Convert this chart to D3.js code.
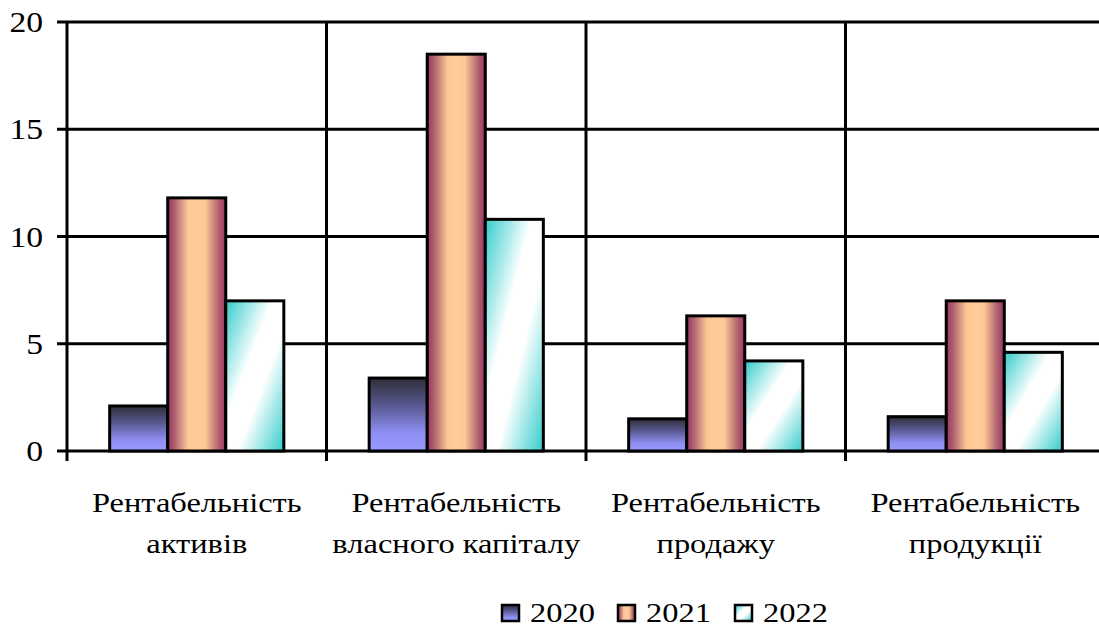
<!DOCTYPE html>
<html>
<head>
<meta charset="utf-8">
<script src="https://cdn.jsdelivr.net/npm/d3@7"></script>
<style>
  html, body { margin: 0; padding: 0; background: #fff; }
  svg { display: block; }
  svg text { font-family: "Liberation Serif", "Times New Roman", serif; fill: #000; }
</style>
</head>
<body>
<svg id="chart" width="1099" height="631"></svg>
<script>
// Profitability indicators, %
const categories = [
  ["Рентабельність", "активів"],
  ["Рентабельність", "власного капіталу"],
  ["Рентабельність", "продажу"],
  ["Рентабельність", "продукції"]
];
const years = ["2020", "2021", "2022"];
const values2020 = [2.1, 3.4, 1.5, 1.6];
const values2021 = [11.8, 18.5, 6.3, 7.0];
const values2022 = [7.0, 10.8, 4.2, 4.6];
const yTicks = [0, 5, 10, 15, 20];

const series = [values2020, values2021, values2022];
const textStretch = 1.16;

const svg = d3.select("#chart");
const margin = { left: 67, top: 22, bottom: 451 };
const plotRight = 1105;

const x = d3.scaleBand()
  .domain(d3.range(categories.length))
  .range([margin.left, plotRight]);
const xInner = d3.scaleBand()
  .domain(years)
  .range([0, x.bandwidth()])
  .paddingOuter(0.75 * 0.98)
  .paddingInner(0);
const y = d3.scaleLinear().domain([0, 20]).range([margin.bottom, margin.top]);

// gradient fills
const defs = svg.append("defs");
const g2020 = defs.append("linearGradient").attr("id", "grad2020")
  .attr("x1", 0).attr("y1", 0).attr("x2", 0).attr("y2", 1);
[[0, "#2f2f3a"], [0.35, "#55558a"], [0.75, "#8e8ef2"], [1, "#9999ff"]]
  .forEach(([o, c]) => g2020.append("stop").attr("offset", o).attr("stop-color", c));

const g2021 = defs.append("linearGradient").attr("id", "grad2021")
  .attr("x1", 0).attr("y1", 0).attr("x2", 1).attr("y2", 0);
[[0, "#993366"], [0.12, "#b0616f"], [0.35, "#fcc896"], [0.5, "#ffcc99"], [0.65, "#fcc896"], [0.88, "#b0616f"], [1, "#993366"]]
  .forEach(([o, c]) => g2021.append("stop").attr("offset", o).attr("stop-color", c));

const g2022 = defs.append("linearGradient").attr("id", "grad2022")
  .attr("x1", 0).attr("y1", 0).attr("x2", 1).attr("y2", 1);
[[0, "#33cccc"], [0.4, "#ffffff"], [0.6, "#ffffff"], [1, "#33cccc"]]
  .forEach(([o, c]) => g2022.append("stop").attr("offset", o).attr("stop-color", c));

const fills = ["url(#grad2020)", "url(#grad2021)", "url(#grad2022)"];

// horizontal gridlines
svg.append("g")
  .selectAll("line").data(yTicks).join("line")
  .attr("x1", margin.left - 10).attr("x2", plotRight)
  .attr("y1", d => y(d)).attr("y2", d => y(d))
  .attr("stroke", "#000").attr("stroke-width", 3);

// vertical category separators, extending below the axis as ticks
svg.append("g")
  .selectAll("line").data(d3.range(categories.length + 1)).join("line")
  .attr("x1", i => i < categories.length ? x(i) : plotRight)
  .attr("x2", i => i < categories.length ? x(i) : plotRight)
  .attr("y1", margin.top).attr("y2", margin.bottom + 10)
  .attr("stroke", "#000").attr("stroke-width", 3);

// bars
const groups = svg.append("g").selectAll("g").data(categories).join("g")
  .attr("transform", (d, i) => `translate(${x(i)},0)`);
groups.selectAll("rect")
  .data((d, i) => years.map((yr, s) => ({ yr, s, v: series[s][i] })))
  .join("rect")
  .attr("x", d => xInner(d.yr))
  .attr("width", xInner.bandwidth())
  .attr("y", d => y(d.v))
  .attr("height", d => y(0) - y(d.v))
  .attr("fill", d => fills[d.s])
  .attr("stroke", "#000").attr("stroke-width", 3);

// y tick labels
svg.append("g").selectAll("text").data(yTicks).join("text")
  .attr("transform", d => `translate(43,${y(d) + 10}) scale(${textStretch},1)`)
  .attr("text-anchor", "end")
  .attr("font-size", 29)
  .text(d => d);

// category labels
svg.append("g").selectAll("g").data(categories).join("g")
  .attr("transform", (d, i) => `translate(${x(i) + x.bandwidth() / 2},0)`)
  .selectAll("text").data(d => d).join("text")
  .attr("transform", (d, j) => `translate(0,${512 + j * 41}) scale(${textStretch},1)`)
  .attr("text-anchor", "middle")
  .attr("font-size", 28)
  .text(d => d);

// legend
const legendX = [502, 618, 735];
const legend = svg.append("g").selectAll("g").data(years).join("g")
  .attr("transform", (d, i) => `translate(${legendX[i]},605)`);
legend.append("rect")
  .attr("width", 17).attr("height", 16)
  .attr("fill", (d, i) => fills[i])
  .attr("stroke", "#000").attr("stroke-width", 2.5);
legend.append("text")
  .attr("transform", `translate(28,17) scale(${textStretch},1)`)
  .attr("font-size", 28)
  .text(d => d);
</script>
</body>
</html>
